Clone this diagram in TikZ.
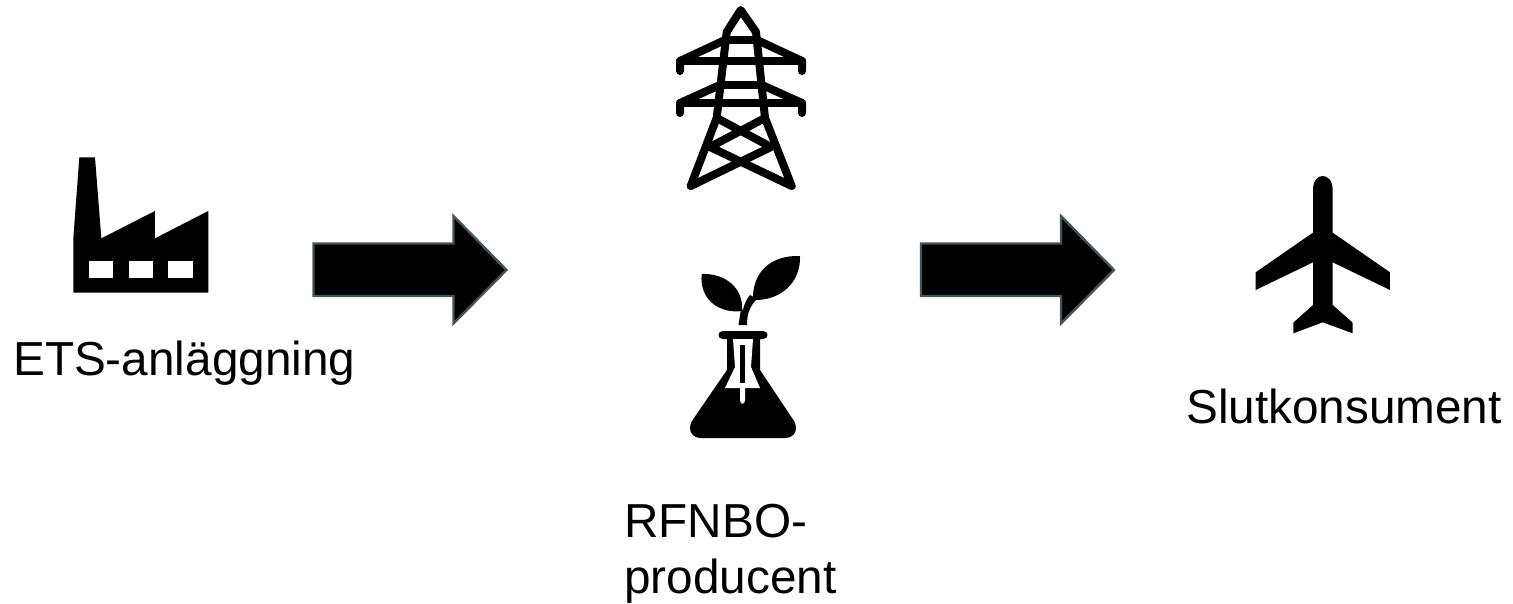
\documentclass[tikz,border=0pt]{standalone}
\usepackage{fontspec}
\setmainfont{Liberation Sans}
\definecolor{arrowedge}{HTML}{44545C}
\tikzset{
  label text/.style={anchor=base west,inner sep=0pt,font=\fontsize{47.7}{58}\selectfont,text=black},
  block arrow/.style={fill=black,draw=arrowedge,line width=2.4pt,line join=miter},
  tower line/.style={draw=black,line width=8pt,line cap=round,line join=round},
  icon/.style={fill=black,draw=none},
  hole/.style={fill=white,draw=none}
}
\begin{document}
\begin{tikzpicture}[x=1pt,y=-1pt]
\useasboundingbox (0,0) rectangle (1513,604);
% factory
\begin{scope}[shift={(60,150)},x=0.3333pt,y=-0.3333pt]
\fill[icon] (58,22)--(105,22)--(124,265)--(285,183)--(285,265)--(445,183)--(445,428)--(40,428)--(40,265)--cycle;
\fill[hole] (88,332) rectangle (160,385);
\fill[hole] (207,332) rectangle (279,385);
\fill[hole] (325,332) rectangle (398,385);
\end{scope}
% tower
\draw[tower line] (690.7,186)--(716.7,118)--(726.7,32)--(740.7,10)--(756,32)--(765,118)--(791.7,186)--(710,147)--(765,118);
\draw[tower line] (690.7,186)--(771,147)--(716.7,118);
\draw[tower line] (725,40)--(680,61)--(680,71);
\draw[tower line] (757,40)--(802,61)--(802,71);
\draw[tower line] (680,61)--(802,61);
\draw[tower line] (725,40)--(757,40);
\draw[tower line] (720,85)--(680,103)--(680,113);
\draw[tower line] (762,85)--(802,103)--(802,113);
\draw[tower line] (680,103)--(802,103);
\draw[tower line] (720,85)--(762,85);
% flask with sprout
\fill[icon] (701.7,274) .. controls (725,273) and (744,288) .. (742,311) .. controls (720,314) and (699,300) .. (701.7,274)--cycle;
\fill[icon] (800,256) .. controls (801,283) and (780,301) .. (753,300) .. controls (752,273) and (770,255) .. (800,256)--cycle;
\fill[icon] (738.5,325)--(747,325) .. controls (747,313) and (750,306) .. (757,299)--(750,295) .. controls (746,300) and (744,305) .. (743,310)--(741,309)--cycle;
\fill[icon] (723,331)--(763,331) .. controls (769,331) and (769,339) .. (763,339)--(760,339)--(760,370)--(792,418) .. controls (800,428) and (795,438) .. (785,438)--(701,438) .. controls (691,438) and (686,428) .. (694,418)--(727,370)--(727,339)--(723,339) .. controls (717,339) and (717,331) .. (723,331)--cycle;
\fill[hole] (733,339)--(753,339)--(751,367)--(760,388)--(745,388)--(745,400) .. controls (745,405) and (740,405) .. (740,400)--(740,388)--(725,388)--(735,367)--cycle;
\fill[icon] (740,345) rectangle (745,383);
% plane
\begin{scope}[shift={(1240,170)},x=0.3333pt,y=-0.3333pt]
\fill[icon] (219,60) .. controls (219,30) and (235,18) .. (248,18) .. controls (262,18) and (278,30) .. (278,60)--(278,188)--(450,307)--(450,360)--(278,277)--(278,405)--(338,458)--(338,490)--(248,457)--(160,490)--(160,458)--(219,405)--(219,277)--(47,360)--(47,307)--(219,188)--cycle;
\end{scope}
% block arrows
\path[block arrow] (313.5,243.5)--(453.5,243.5)--(453.5,216)--(506.5,270)--(453.5,323.5)--(453.5,296)--(313.5,296)--cycle;
\path[block arrow] (921,243.5)--(1061,243.5)--(1061,216)--(1114,270)--(1061,323.5)--(1061,296)--(921,296)--cycle;
% labels
\node[label text] (ets) at (13,375) {ETS-anläggning};
\node[label text] (rfnbo) at (624,537) {RFNBO-};
\node[label text] (prod) at (624,593.5) {producent};
\node[label text] (slut) at (1186,423) {Slutkonsument};
\end{tikzpicture}
\end{document}
